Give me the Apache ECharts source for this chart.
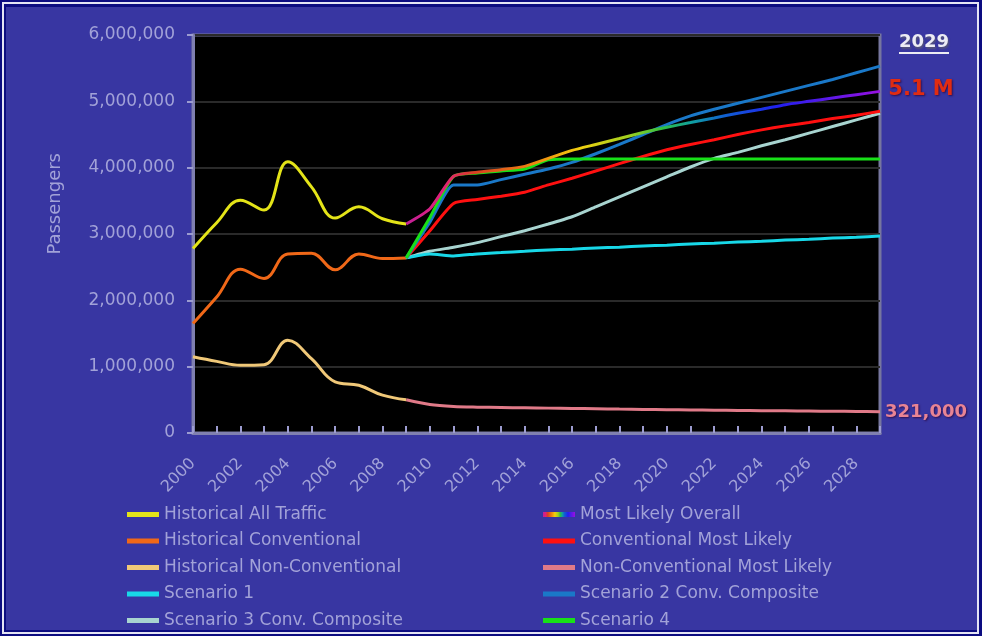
<!DOCTYPE html>
<html>
<head>
<meta charset="utf-8">
<script src="https://cdn.jsdelivr.net/npm/echarts@6/dist/echarts.min.js"></script>
<style>
html,body{margin:0;padding:0;background:#0c0c80;}
#chart{width:982px;height:636px;}
</style>
</head>
<body>
<div id="chart"></div>
<script>
// ---------- data ----------
const years = ['2000','2001','2002','2003','2004','2005','2006','2007','2008','2009',
  '2010','2011','2012','2013','2014','2015','2016','2017','2018','2019',
  '2020','2021','2022','2023','2024','2025','2026','2027','2028','2029'];
const yTicks = [0, 1000000, 2000000, 3000000, 4000000, 5000000, 6000000];

// historical, 2000-2009
const histAll  = [2780000, 3170000, 3510000, 3360000, 4090000, 3710000, 3240000, 3410000, 3230000, 3150000];
const histConv = [1650000, 2050000, 2470000, 2330000, 2700000, 2710000, 2460000, 2700000, 2630000, 2640000];
const histNon  = [1150000, 1080000, 1020000, 1030000, 1400000, 1120000, 770000, 720000, 570000, 500000];

// forecasts, 2009-2029
const mostLikely = [3150000, 3380000, 3870000, 3930000, 3970000, 4020000, 4140000, 4260000, 4350000, 4440000,
  4530000, 4610000, 4680000, 4750000, 4820000, 4880000, 4950000, 5000000, 5050000, 5100000, 5150000];
const convMostLikely = [2640000, 3050000, 3460000, 3520000, 3570000, 3630000, 3740000, 3840000, 3950000, 4060000,
  4170000, 4270000, 4350000, 4420000, 4500000, 4570000, 4630000, 4680000, 4740000, 4790000, 4850000];
const nonConvMostLikely = [500000, 430000, 400000, 390000, 385000, 380000, 375000, 370000, 365000, 360000,
  356000, 352000, 348000, 344000, 340000, 337000, 334000, 331000, 328000, 325000, 321000];
const scenario1 = [2640000, 2700000, 2670000, 2700000, 2720000, 2740000, 2760000, 2770000, 2790000, 2800000,
  2820000, 2830000, 2850000, 2860000, 2880000, 2890000, 2910000, 2920000, 2940000, 2950000, 2970000];
const scenario2 = [2640000, 3180000, 3740000, 3740000, 3820000, 3900000, 3980000, 4080000, 4210000, 4350000,
  4500000, 4650000, 4780000, 4880000, 4970000, 5060000, 5150000, 5240000, 5330000, 5430000, 5530000];
const scenario3 = [2640000, 2740000, 2800000, 2870000, 2960000, 3050000, 3150000, 3260000, 3410000, 3560000,
  3710000, 3860000, 4010000, 4140000, 4230000, 4330000, 4420000, 4520000, 4620000, 4720000, 4820000];
const scenario4 = [2640000, 3250000, 3870000, 3920000, 3950000, 3980000, 4120000, 4130000, 4130000, 4130000,
  4130000, 4130000, 4130000, 4130000, 4130000, 4130000, 4130000, 4130000, 4130000, 4130000, 4130000];

const leftLegend = ['Historical All Traffic', 'Historical Conventional', 'Historical Non-Conventional', 'Scenario 1', 'Scenario 3 Conv. Composite'];
const rightLegend = ['Most Likely Overall', 'Conventional Most Likely', 'Non-Conventional Most Likely', 'Scenario 2 Conv. Composite', 'Scenario 4'];

// ---------- helpers ----------
const FONT = 'DejaVu Sans';
const TXT = '#a2a2d8';
function hist(arr){ return arr.concat(new Array(years.length - arr.length).fill(null)); }
function fut(arr){ return new Array(years.length - arr.length).fill(null).concat(arr); }
function line(name, data, color, smooth){
  return {
    name: name, type: 'line', data: data, showSymbol: false, symbol: 'none',
    smooth: smooth, connectNulls: false,
    lineStyle: {color: color, width: 3}, itemStyle: {color: color}
  };
}
const rainbow = new echarts.graphic.LinearGradient(0, 0, 1, 0, [
  {offset: 0, color: '#c0209a'},
  {offset: 0.08, color: '#e0207a'},
  {offset: 0.15, color: '#d84020'},
  {offset: 0.28, color: '#f08a10'},
  {offset: 0.37, color: '#f0d010'},
  {offset: 0.47, color: '#a0d020'},
  {offset: 0.54, color: '#30c040'},
  {offset: 0.6, color: '#10a0a0'},
  {offset: 0.67, color: '#1060d0'},
  {offset: 0.78, color: '#2020f0'},
  {offset: 1, color: '#9a10e0'}
]);

const chart = echarts.init(document.getElementById('chart'), null, {renderer: 'canvas'});
const legendCommon = {
  orient: 'vertical', top: 501, itemWidth: 32, itemHeight: 5, icon: 'rect', itemGap: 9.5,
  selectedMode: false,
  textStyle: {color: TXT, fontSize: 17, fontFamily: FONT}
};
chart.setOption({
  animation: false,
  backgroundColor: '#0c0c80',
  textStyle: {fontFamily: FONT},
  grid: {left: 193, right: 102, top: 35, bottom: 203, show: true,
    backgroundColor: '#000000', borderColor: '#76769e', borderWidth: 3},
  legend: [
    Object.assign({left: 122, data: leftLegend}, legendCommon),
    Object.assign({left: 538, data: rightLegend}, legendCommon)
  ],
  xAxis: {
    type: 'category', data: years, boundaryGap: false,
    axisLine: {lineStyle: {color: '#8080b0', width: 3}},
    axisTick: {show: true, inside: true, length: 7, interval: 0, alignWithLabel: true, lineStyle: {color: '#9c9cd0', width: 2}},
    axisLabel: {interval: 1, rotate: 45, color: TXT, fontSize: 16, fontFamily: FONT, margin: 28},
    splitLine: {show: false}
  },
  yAxis: {
    type: 'value', min: yTicks[0], max: yTicks[yTicks.length - 1], interval: 1000000,
    axisLine: {show: true, lineStyle: {color: '#8080b0', width: 3}},
    axisTick: {show: true, length: 6, lineStyle: {color: '#9c9cd0', width: 2}},
    axisLabel: {color: TXT, fontSize: 17, fontFamily: FONT, margin: 18,
      formatter: v => v.toLocaleString('en-US')},
    splitLine: {lineStyle: {color: '#2a2a2a', width: 2}}
  },
  series: [
    line('Historical Non-Conventional', hist(histNon), '#f0c878', 0.4),
    line('Historical Conventional', hist(histConv), '#f06818', 0.4),
    line('Historical All Traffic', hist(histAll), '#e4e418', 0.4),
    line('Non-Conventional Most Likely', fut(nonConvMostLikely), '#e07a88', 0.3),
    line('Scenario 3 Conv. Composite', fut(scenario3), '#a8d4d0', 0.2),
    line('Scenario 1', fut(scenario1), '#18d8e8', 0.2),
    line('Conventional Most Likely', fut(convMostLikely), '#ff1010', 0.2),
    line('Scenario 2 Conv. Composite', fut(scenario2), '#1a78c8', 0.2),
    line('Scenario 4', fut(scenario4), '#18e018', 0.2),
    line('Most Likely Overall', fut(mostLikely), rainbow, 0.2)
  ],
  graphic: [
    {type: 'rect', z: -20, silent: true, shape: {x: 3, y: 3, width: 975, height: 630}, style: {fill: 'none', stroke: '#e4e4f4', lineWidth: 2}},
    {type: 'rect', z: -19, silent: true, shape: {x: 6, y: 7, width: 971, height: 623}, style: {fill: '#3836a2'}},
    {type: 'text', silent: true, left: 46, top: 153, rotation: Math.PI / 2,
      style: {text: 'Passengers', fill: TXT, font: '18px "DejaVu Sans"'}},
    {type: 'text', silent: true, x: 924, y: 42,
      style: {text: '2029', fill: '#ececf4', font: 'bold 18px "DejaVu Sans"', textAlign: 'center', textVerticalAlign: 'middle',
        textShadowColor: '#555577', textShadowOffsetX: 1, textShadowOffsetY: 2, textShadowBlur: 2}},
    {type: 'line', silent: true, shape: {x1: 899, y1: 53, x2: 949, y2: 53}, style: {stroke: '#ececf4', lineWidth: 2}},
    {type: 'text', silent: true, x: 921, y: 90,
      style: {text: '5.1 M', fill: '#e02c12', font: 'bold 21px "DejaVu Sans"', textAlign: 'center', textVerticalAlign: 'middle',
        textShadowColor: '#301050', textShadowOffsetX: 1, textShadowOffsetY: 1, textShadowBlur: 2}},
    {type: 'text', silent: true, x: 926, y: 412,
      style: {text: '321,000', fill: '#e88494', font: 'bold 18px "DejaVu Sans"', textAlign: 'center', textVerticalAlign: 'middle',
        textShadowColor: '#301050', textShadowOffsetX: 1, textShadowOffsetY: 1, textShadowBlur: 2}}
  ]
});
</script>
</body>
</html>
